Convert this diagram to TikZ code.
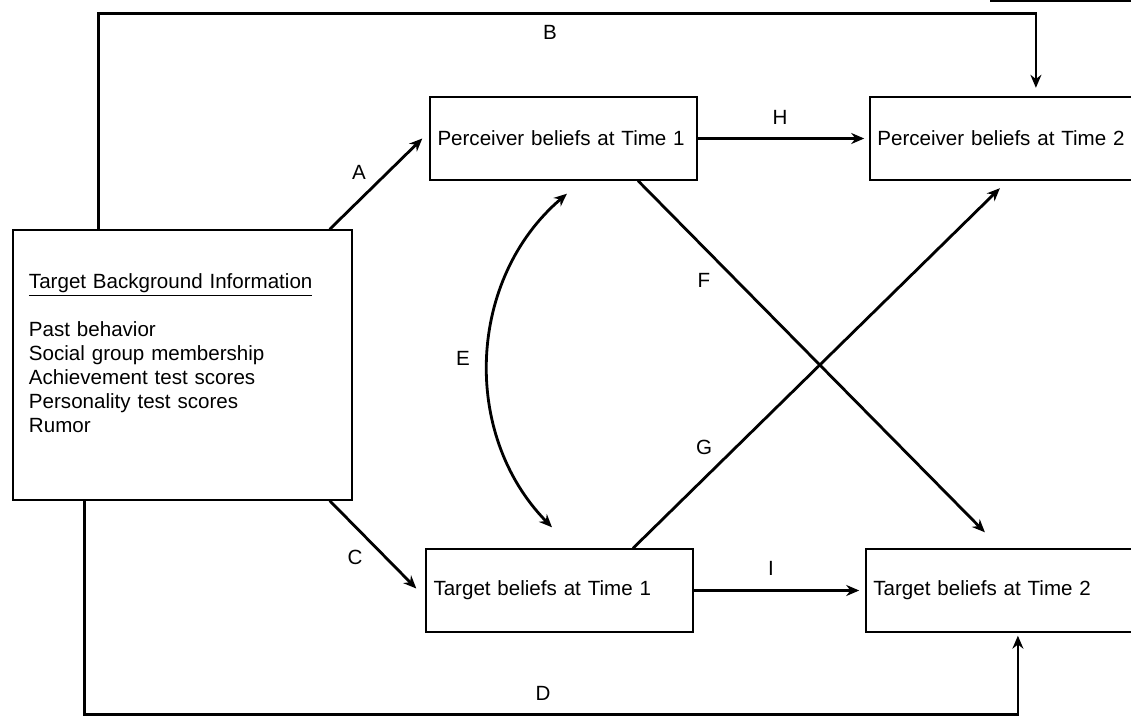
\documentclass[tikz,border=0pt]{standalone}
\usepackage{fontspec}
\setmainfont{Liberation Sans}
\usetikzlibrary{arrows.meta, positioning}

\begin{document}
\begin{tikzpicture}[
node distance=3.43cm,
font=\fontsize{11.7}{13.6}\selectfont,
box/.style={draw, line width=0.8pt, minimum width=5.34cm, minimum height=1.66cm, text width=5.04cm, inner xsep=0.15cm, align=left},
infobox/.style={draw, line width=0.8pt, minimum width=6.78cm, minimum height=5.40cm, text width=6.14cm, inner xsep=0.32cm, align=left},
arrow/.style={-{Stealth[length=0.26cm, width=0.22cm]}, line width=1.6pt},
lbl/.style={inner sep=0pt}
]
\useasboundingbox (0,0) rectangle (22.62,-14.38);
\clip (0,0) rectangle (22.62,-14.38);
\node[infobox] (bg) at (3.65,-7.30) {\underline{Target Background Information}\\[\baselineskip]
Past behavior\\ Social group membership\\ Achievement test scores\\ Personality test scores\\ Rumor\\ \mbox{}};
\node[box] (p1) at (11.27,-2.77) {Perceiver beliefs at Time 1};
\node[box, right=of p1] (p2) {Perceiver beliefs at Time 2};
\node[box] (t1) at (11.19,-11.81) {Target beliefs at Time 1};
\node[box, right=of t1] (t2) {Target beliefs at Time 2};
\draw[arrow] ([xshift=-0.46cm]bg.north east) -- ([xshift=-0.14cm]p1.west);
\draw[arrow] ([xshift=-0.46cm]bg.south east) -- ([xshift=-0.18cm,yshift=0.04cm]t1.west);
\draw[arrow] ([xshift=1.72cm]bg.north west) -- ++(0,4.32) -| ([xshift=0.65cm,yshift=0.17cm]p2.north);
\draw[arrow] ([xshift=1.44cm]bg.south west) -- ++(0,-4.28) -| ([xshift=0.37cm,yshift=-0.06cm]t2.south);
\draw[arrow] (p1.east) -- ([xshift=-0.1cm]p2.west);
\draw[arrow] (t1.east) -- ([xshift=-0.12cm]t2.west);
\draw[arrow] ([xshift=1.49cm]p1.south) -- ([xshift=-0.29cm,yshift=0.32cm]t2.north);
\draw[arrow] ([xshift=1.47cm]t1.north) -- ([xshift=-0.07cm,yshift=-0.15cm]p2.south);
\draw[{Stealth[length=0.26cm, width=0.22cm]}-{Stealth[length=0.26cm, width=0.22cm]}, line width=1.6pt]
  ([xshift=0.07cm,yshift=-0.26cm]p1.south) to[bend right=47] ([xshift=-0.15cm,yshift=0.42cm]t1.north);
% path labels
\node[lbl] (la) at (7.18,-3.44) {A};
\node[lbl] (lb) at (11.00,-0.64) {B};
\node[lbl] (lc) at (7.10,-11.14) {C};
\node[lbl] (ld) at (10.86,-13.86) {D};
\node[lbl] (le) at (9.26,-7.16) {E};
\node[lbl] (lf) at (14.08,-5.60) {F};
\node[lbl] (lg) at (14.08,-8.94) {G};
\node[lbl] (lh) at (15.60,-2.34) {H};
\node[lbl] (li) at (15.42,-11.36) {I};
\draw[line width=0.6pt] (19.8,-0.02) -- (22.62,-0.02);
\end{tikzpicture}
\end{document}
